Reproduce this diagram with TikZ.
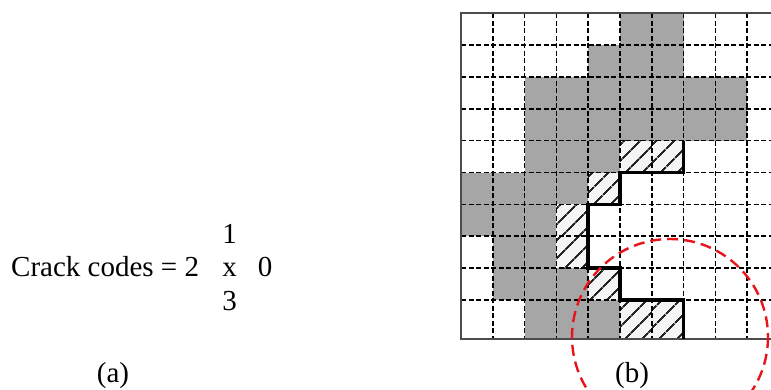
\documentclass[tikz,border=0pt]{standalone}
\usepackage{fontspec}
\setmainfont{Liberation Serif}
\usetikzlibrary{patterns.meta}

\definecolor{cellgray}{HTML}{A6A6A6}
\definecolor{ringred}{HTML}{E8141B}

% grid origin and cell size, in pt
\newcommand{\gx}[1]{461+31.8*(#1)}
\newcommand{\gy}[1]{13.3+31.85*(#1)}

\begin{document}
\begin{tikzpicture}[
    x=1pt, y=-1pt,
    txt/.style={font=\fontsize{29}{34}\selectfont, inner sep=0pt, anchor=base},
    graycell/.style={fill=cellgray},
    hatchcell/.style={fill=black!4, postaction={pattern={Lines[angle=45,distance=13pt,line width=2pt]}, pattern color=black!85}},
    gridline/.style={black, line width=1.6pt, dash pattern=on 5pt off 2.5pt},
    gridframe/.style={black!70, line width=2pt},
    crack/.style={black, line width=3.6pt, line join=miter},
    zoomring/.style={ringred, line width=2.4pt, dash pattern=on 11pt off 6pt}
]
    \useasboundingbox[fill=white] (0,0) rectangle (771,390);

    % object pixels
    \foreach \row/\cols in {0/{5,6},1/{4,5,6},2/{2,...,8},3/{2,...,8},4/{2,3,4},
                            5/{0,1,2,3},6/{0,1,2},7/{1,2},8/{1,2,3},9/{2,3,4}}{
        \pgfmathsetmacro\h{\row==9 ? 39 : 31.85}
        \foreach \col in \cols
            \fill[graycell] ({\gx{\col}},{\gy{\row}}) rectangle ++(31.8,\h);
    }

    % boundary pixels
    \foreach \col/\row in {5/4,6/4,4/5,3/6,3/7,4/8,5/9,6/9}{
        \pgfmathsetmacro\h{\row==9 ? 39 : 31.85}
        \path[hatchcell] ({\gx{\col}},{\gy{\row}}) rectangle ++(31.8,\h);
    }

    % grid
    \foreach \c in {1,...,9}
        \draw[gridline] ({\gx{\c}},13.3) -- ({\gx{\c}},339);
    \foreach \r in {1,...,9}
        \draw[gridline] (461,{\gy{\r}}) -- (780,{\gy{\r}});
    \draw[gridframe] (780,13.3) -- (461,13.3) -- (461,339) -- (780,339);

    % crack path
    \draw[crack] ({\gx{7}},{\gy{4}}) -- ({\gx{7}},{\gy{5}}) -- ({\gx{5}},{\gy{5}})
        -- ({\gx{5}},{\gy{6}}) -- ({\gx{4}},{\gy{6}}) -- ({\gx{4}},{\gy{8}})
        -- ({\gx{5}},{\gy{8}}) -- ({\gx{5}},{\gy{9}}) -- ({\gx{7}},{\gy{9}})
        -- ({\gx{7}},339);

    \draw[zoomring] (670,337) circle[radius=98];

    % crack code directions
    \node[txt, anchor=base west] (codes) at (11,276.5) {Crack codes = 2};
    \node[txt] (centre) at (229.5,276.5) {x};
    \node[txt] (east) at (265,276.5) {0};
    \node[txt] (north) at (229.5,243.5) {1};
    \node[txt] (south) at (229.5,310.5) {3};

    \node[txt] (capa) at (113,382) {(a)};
    \node[txt] (capb) at (632,382) {(b)};
\end{tikzpicture}
\end{document}
